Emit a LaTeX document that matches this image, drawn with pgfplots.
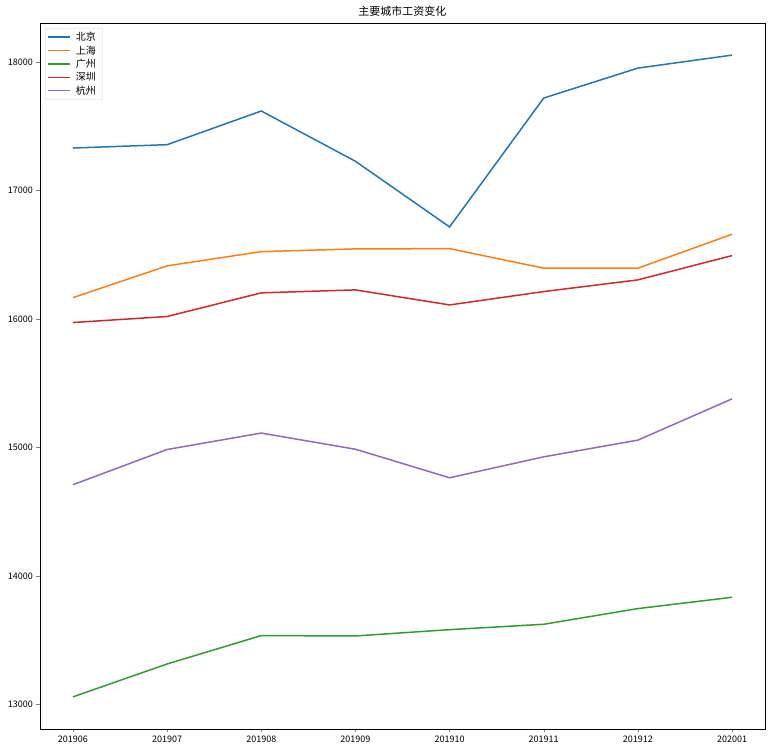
\documentclass[border=0pt]{standalone}
\usepackage{fontspec}
\setmainfont{Noto Sans CJK SC}
\usepackage{pgfplots}
\pgfplotsset{compat=1.18}
\definecolor{tabblue}{HTML}{1F77B4}
\definecolor{taborange}{HTML}{FF7F0E}
\definecolor{tabgreen}{HTML}{2CA02C}
\definecolor{tabred}{HTML}{D62728}
\definecolor{tabpurple}{HTML}{9467BD}

\begin{document}
\begin{tikzpicture}
\begin{axis}[
    at={(0,0)}, anchor=south west,
    width=725pt, height=706pt, scale only axis,
    xmin=-0.35, xmax=7.35,
    ymin=12810, ymax=18304,
    xtick={0,1,2,3,4,5,6,7},
    xticklabels={201906,201907,201908,201909,201910,201911,201912,202001},
    ytick={13000,14000,15000,16000,17000,18000},
    scaled y ticks=false,
    yticklabel style={/pgf/number format/1000 sep={}},
    /pgf/number format/assume math mode=true,
    tick label style={font=\fontsize{9}{10}\selectfont},
    tick align=outside,
    major tick length=3.5pt,
    xtick pos=left, ytick pos=left,
    title={主要城市工资变化},
    title style={font=\fontsize{11}{12}\selectfont, yshift=-3pt},
    legend cell align=left,
    legend style={draw=black!15, rounded corners=2pt, font=\fontsize{10}{12}\selectfont,
        at={(0.007,0.993)}, anchor=north west, inner xsep=2pt, inner ysep=3pt,
        row sep=1.5pt, nodes={inner xsep=5pt, inner ysep=1pt}},
    legend image code/.code={\draw[#1, line width=1.5pt] plot coordinates {(0pt,0pt) (22pt,0pt)};},
    every axis plot/.append style={line width=1.5pt},
]
\addplot[color=tabblue] coordinates {
    (0,17331) (1,17357) (2,17619) (3,17228) (4,16717) (5,17720) (6,17953) (7,18054)
};
\addlegendentry{北京}
\addplot[color=taborange] coordinates {
    (0,16167) (1,16414) (2,16525) (3,16546) (4,16548) (5,16396) (6,16396) (7,16660)
};
\addlegendentry{上海}
\addplot[color=tabgreen] coordinates {
    (0,13060) (1,13316) (2,13537) (3,13534) (4,13583) (5,13625) (6,13747) (7,13835)
};
\addlegendentry{广州}
\addplot[color=tabred] coordinates {
    (0,15973) (1,16020) (2,16204) (3,16227) (4,16110) (5,16214) (6,16305) (7,16494)
};
\addlegendentry{深圳}
\addplot[color=tabpurple] coordinates {
    (0,14711) (1,14985) (2,15113) (3,14987) (4,14765) (5,14928) (6,15058) (7,15379)
};
\addlegendentry{杭州}
\end{axis}
\pgfresetboundingbox
\path (-40pt,-23pt) rectangle (731pt,729pt);
\end{tikzpicture}
\end{document}
